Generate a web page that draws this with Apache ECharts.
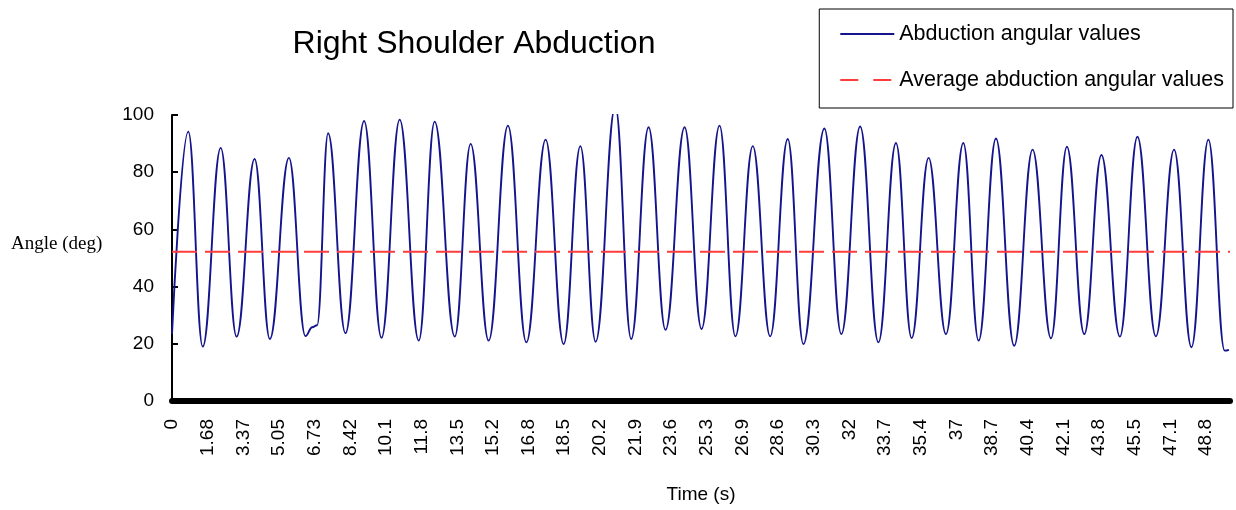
<!DOCTYPE html>
<html><head><meta charset="utf-8">
<script src="https://cdn.jsdelivr.net/npm/echarts@6/dist/echarts.min.js"></script>
<style>html,body{margin:0;padding:0;background:#fff}#c{width:1236px;height:510px}</style>
</head><body><div id="c"></div>
<script>
// ---- data ----
const tickLabels = ['0','1.68','3.37','5.05','6.73','8.42','10.1','11.8','13.5','15.2','16.8','18.5','20.2','21.9','23.6','25.3','26.9','28.6','30.3','32','33.7','35.4','37','38.7','40.4','42.1','43.8','45.5','47.1','48.8'];
const tickStep = 1.6835;
const xMax = 49.95;
const yTicks = [0, 20, 40, 60, 80, 100];

const times = [0, 0.77, 1.45, 2.30, 3.05, 3.90, 4.62, 5.52, 6.30, 6.62, 6.85, 7.37, 8.19, 9.07, 9.89, 10.75, 11.65, 12.40, 13.35, 14.10, 14.95, 15.86, 16.73, 17.64, 18.49, 19.28, 20.00, 20.93, 21.68, 22.50, 23.30, 24.20, 25.00, 25.85, 26.60, 27.42, 28.24, 29.07, 29.81, 30.80, 31.60, 32.49, 33.35, 34.18, 34.92, 35.72, 36.54, 37.36, 38.08, 38.90, 39.76, 40.63, 41.50, 42.25, 43.07, 43.88, 44.75, 45.58, 46.45, 47.31, 48.13, 48.93, 49.70, 49.90];
const angles = [23.4, 94.2, 19.0, 88.5, 22.5, 84.6, 21.7, 85.0, 22.7, 25.8, 26.5, 93.6, 23.7, 97.9, 22.1, 98.4, 21.1, 97.7, 22.5, 89.9, 21.1, 96.3, 20.5, 91.4, 19.9, 89.1, 20.7, 103.0, 21.7, 95.7, 24.9, 95.7, 25.2, 96.3, 22.6, 89.1, 22.6, 91.6, 19.9, 95.3, 23.4, 96.0, 20.5, 90.2, 22.0, 85.0, 23.4, 90.2, 21.1, 91.8, 19.3, 87.9, 21.9, 88.9, 23.4, 86.0, 22.5, 92.4, 22.6, 87.9, 18.8, 91.4, 17.6, 17.9];

const avgTimes = [0, 49.95];
const avgValues = [52.2, 52.2];

const seriesNames = ['Abduction angular values', 'Average abduction angular values'];

// ---- chart ----
const sans = '"Liberation Sans", Arial, sans-serif';
const chart = echarts.init(document.getElementById('c'), null, {renderer: 'canvas'});
const zip = (a, b) => a.map((v, i) => [v, b[i]]);

chart.setOption({
  animation: false,
  backgroundColor: '#fff',
  title: {
    text: 'Right Shoulder Abduction',
    left: 474, top: 28, textAlign: 'center', padding: 0,
    textStyle: {fontFamily: sans, fontSize: 32, fontWeight: 'normal', color: '#000'}
  },
  legend: {
    orient: 'vertical', right: 3, top: 9,
    borderColor: '#000', borderWidth: 1,
    padding: [14, 9, 17, 20],
    itemGap: 24, itemWidth: 54, itemHeight: 14,
    itemStyle: {opacity: 0},
    textStyle: {fontFamily: sans, fontSize: 21.5, color: '#000'},
    data: [
      {name: seriesNames[0]},
      {name: seriesNames[1], lineStyle: {type: [18, 15]}}
    ]
  },
  graphic: [{
    type: 'text', left: 11, top: 235,
    style: {text: 'Angle (deg)', font: '19px "Liberation Serif", "Times New Roman", serif', fill: '#000'}
  }],
  grid: {left: 172, right: 6, top: 115, bottom: 109, containLabel: false},
  xAxis: {
    type: 'value', min: 0, max: xMax, interval: tickStep,
    name: 'Time (s)', nameLocation: 'middle', nameGap: 84,
    nameTextStyle: {fontFamily: sans, fontSize: 19, color: '#000'},
    axisLine: {show: true, onZero: false, lineStyle: {color: '#000', width: 6}},
    axisTick: {show: false},
    splitLine: {show: false},
    axisLabel: {
      rotate: 90, margin: 18, fontFamily: sans, fontSize: 19, color: '#000',
      showMaxLabel: false,
      formatter: function (v) {
        const i = Math.round(v / tickStep);
        if (Math.abs(v - i * tickStep) > 1e-6 || i >= tickLabels.length) return '';
        return tickLabels[i];
      }
    }
  },
  yAxis: {
    type: 'value', min: yTicks[0], max: yTicks[yTicks.length - 1], interval: 20,
    axisLine: {show: true, lineStyle: {color: '#000', width: 2}},
    axisTick: {show: true, inside: true, length: 6, lineStyle: {color: '#000', width: 2}},
    splitLine: {show: false},
    axisLabel: {margin: 18, fontFamily: sans, fontSize: 19, color: '#000'}
  },
  series: [
    {
      name: seriesNames[0], type: 'line', data: zip(times, angles),
      symbol: 'none', smooth: 0.42, smoothMonotone: 'x', clip: true,
      lineStyle: {color: '#14148c', width: 1.9},
      itemStyle: {color: '#14148c'}
    },
    {
      name: seriesNames[1], type: 'line', data: zip(avgTimes, avgValues),
      symbol: 'none', clip: true,
      lineStyle: {color: '#ff3c3c', width: 2, type: [25, 8]},
      itemStyle: {color: '#ff3c3c'}
    }
  ]
});
</script>
</body></html>
